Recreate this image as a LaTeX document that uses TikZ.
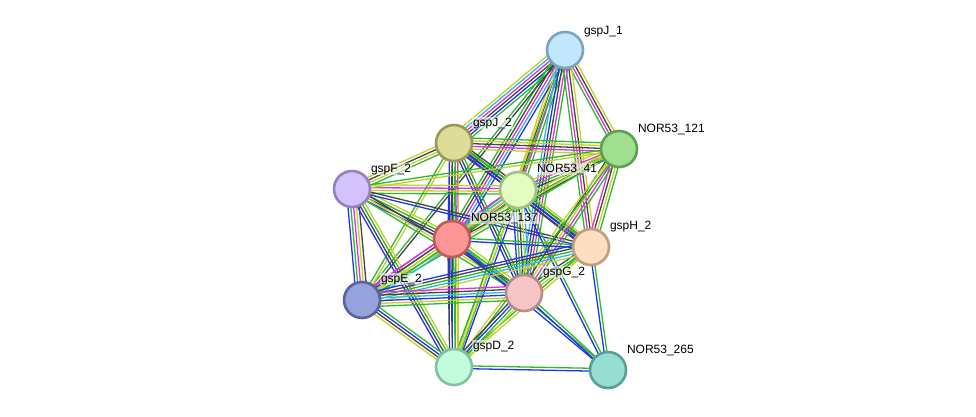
\documentclass[tikz,border=0pt]{standalone}
\usepackage{fontspec}
\setmainfont{Liberation Sans}
\usetikzlibrary{calc}
\pgfdeclarelayer{background}
\pgfsetlayers{background,main}
\definecolor{cY}{HTML}{C4D02C}
\definecolor{cG}{HTML}{2EB82E}
\definecolor{cB}{HTML}{2233EE}
\definecolor{cK}{HTML}{444444}
\definecolor{cM}{HTML}{E030E0}
\definecolor{cC}{HTML}{30B8E0}
\definecolor{fJ1}{HTML}{C2E6FC}\definecolor{bJ1}{HTML}{7AA4C0}
\definecolor{fN121}{HTML}{A0DF90}\definecolor{bN121}{HTML}{5EA050}
\definecolor{fJ2}{HTML}{DEDC96}\definecolor{bJ2}{HTML}{9A9A58}
\definecolor{fN41}{HTML}{E2FCC2}\definecolor{bN41}{HTML}{A2C082}
\definecolor{fF2}{HTML}{D4C2FC}\definecolor{bF2}{HTML}{9482C0}
\definecolor{fN137}{HTML}{FC9696}\definecolor{bN137}{HTML}{C05A5A}
\definecolor{fH2}{HTML}{FCDEC0}\definecolor{bH2}{HTML}{C09C7C}
\definecolor{fE2}{HTML}{96A2DC}\definecolor{bE2}{HTML}{5A62A0}
\definecolor{fG2}{HTML}{F6C6C6}\definecolor{bG2}{HTML}{B88A8A}
\definecolor{fD2}{HTML}{C2FCDC}\definecolor{bD2}{HTML}{82C09E}
\definecolor{fN265}{HTML}{96DED4}\definecolor{bN265}{HTML}{5A9E96}
\newcommand\sedge[3]{%
  \foreach \col [count=\i] in {#3} {\xdef\ncount{\i}}%
  \foreach \col [count=\i] in {#3} {%
    \pgfmathsetmacro\off{(\i-(\ncount+1)/2)*2.8}%
    \draw[color=\col, line width=1.3pt] ($(#1)!\off pt!90:(#2)$) -- ($(#2)!\off pt!-90:(#1)$);%
  }%
}
\tikzset{
  prot/.style={circle, minimum size=36pt, inner sep=0pt, line width=2.6pt, draw=b#1, fill=f#1},
  plabel/.style={anchor=base west, font=\fontsize{12}{14}\selectfont, text=black, fill=white, fill opacity=0.55, text opacity=1, inner sep=0.8pt}
}
\begin{document}
\begin{tikzpicture}[x=1pt,y=-1pt]
\useasboundingbox (0,0) rectangle (976,416);
% nodes
\node[prot=J1] (J1) at (565,50) {};
\node[prot=N121] (N121) at (619,149) {};
\node[prot=J2] (J2) at (454,143) {};
\node[prot=N41] (N41) at (518,190) {};
\node[prot=F2] (F2) at (352,189) {};
\node[prot=N137] (N137) at (452,239) {};
\node[prot=H2] (H2) at (591,247) {};
\node[prot=E2] (E2) at (362,300) {};
\node[prot=G2] (G2) at (524,293) {};
\node[prot=D2] (D2) at (454,367) {};
\node[prot=N265] (N265) at (608,370) {};
% edges
\begin{pgfonlayer}{background}
\sedge{J1}{J2}{cY,cC,cM,cK,cB,cG}
\sedge{J1}{N121}{cG,cM,cK,cY}
\sedge{J1}{N41}{cY,cK,cM,cG}
\sedge{J1}{N137}{cG,cK,cM,cC,cB}
\sedge{J1}{E2}{cG,cK}
\sedge{J1}{D2}{cY,cG}
\sedge{J1}{G2}{cC,cB,cK,cM,cG}
\sedge{J1}{H2}{cG,cM,cK,cY}
\sedge{J2}{N121}{cY,cM,cK,cY,cG}
\sedge{J2}{F2}{cY,cK,cY,cG}
\sedge{J2}{N41}{cK,cB,cG,cK}
\sedge{J2}{N137}{cB,cK,cG,cM}
\sedge{J2}{D2}{cB,cK,cG,cY}
\sedge{J2}{H2}{cB,cK,cG}
\sedge{J2}{G2}{cB,cK,cG}
\sedge{J2}{E2}{cG,cY}
\sedge{F2}{N41}{cG,cY,cM,cY}
\sedge{F2}{N121}{cY,cG}
\sedge{F2}{N137}{cB,cK,cG,cY}
\sedge{F2}{H2}{cB,cK}
\sedge{F2}{G2}{cG,cY,cK}
\sedge{F2}{E2}{cB,cG,cM,cY,cK}
\sedge{F2}{D2}{cB,cK,cG,cY}
\sedge{N41}{N121}{cK,cG,cM,cY}
\sedge{N41}{N137}{cG,cY,cM,cK}
\sedge{N41}{H2}{cK,cB,cG,cY}
\sedge{N41}{G2}{cB,cG,cK,cY,cC}
\sedge{N41}{E2}{cM,cC,cY,cG}
\sedge{N41}{D2}{cG,cY,cB}
\sedge{N41}{N265}{cB,cG}
\sedge{N121}{H2}{cM,cK,cY,cG}
\sedge{N121}{G2}{cK,cY,cM,cG}
\sedge{N121}{N137}{cY,cG,cK}
\sedge{N121}{E2}{cY,cG}
\sedge{N121}{D2}{cY,cG}
\sedge{N137}{H2}{cB,cG}
\sedge{N137}{G2}{cK,cB,cG,cY}
\sedge{N137}{E2}{cM,cK,cY,cG,cC}
\sedge{N137}{D2}{cK,cB,cG,cY}
\sedge{N137}{N265}{cB,cG}
\sedge{H2}{G2}{cK,cG,cY}
\sedge{H2}{E2}{cB,cK,cG,cC,cY}
\sedge{H2}{D2}{cG,cY}
\sedge{H2}{N265}{cB,cG}
\sedge{G2}{E2}{cM,cK,cC,cB,cY,cG}
\sedge{G2}{D2}{cK,cB,cG,cY}
\sedge{G2}{N265}{cB,cG}
\sedge{E2}{D2}{cY,cK,cB,cG}
\sedge{D2}{N265}{cB,cG}
\end{pgfonlayer}
% labels
\node[plabel] (lJ1) at ($(J1)+(18,-16)$) {gspJ\_1};
\node[plabel] (lN121) at ($(N121)+(18,-17)$) {NOR53\_121};
\node[plabel] (lJ2) at ($(J2)+(18,-17)$) {gspJ\_2};
\node[plabel] (lN41) at ($(N41)+(18,-18)$) {NOR53\_41};
\node[plabel] (lF2) at ($(F2)+(18,-17)$) {gspF\_2};
\node[plabel] (lN137) at ($(N137)+(18,-18)$) {NOR53\_137};
\node[plabel] (lH2) at ($(H2)+(18,-18)$) {gspH\_2};
\node[plabel] (lE2) at ($(E2)+(18,-18)$) {gspE\_2};
\node[plabel] (lG2) at ($(G2)+(18,-18)$) {gspG\_2};
\node[plabel] (lD2) at ($(D2)+(18,-18)$) {gspD\_2};
\node[plabel] (lN265) at ($(N265)+(18,-17)$) {NOR53\_265};
\end{tikzpicture}
\end{document}
